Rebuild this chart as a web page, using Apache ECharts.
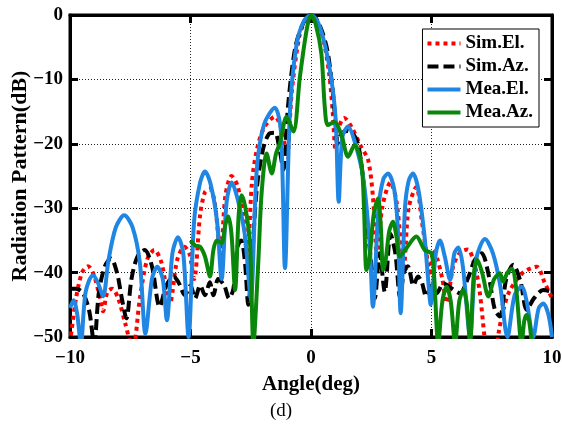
<!DOCTYPE html>
<html>
<head>
<meta charset="utf-8">
<script src="https://cdn.jsdelivr.net/npm/echarts@6/dist/echarts.min.js"></script>
<style>
html, body { margin: 0; padding: 0; background: #fff; }
#chartDom { width: 562px; height: 431px; }
</style>
</head>
<body>
<div id="chartDom"></div>
<script>
// angle (deg) vs radiation pattern (dB)
var seriesNames = ['Sim.El.', 'Sim.Az.', 'Mea.El.', 'Mea.Az.'];
var xTicks = [-10, 10, 5];     // min, max, step
var yTicks = [-50, 0, 10];

var simEl = [
  [-10, -51], [-9.75, -44], [-9.5, -40], [-9.25, -39], [-9.0, -40.5], [-8.75, -44], [-8.63, -46],
  [-8.45, -43], [-8.25, -42.5], [-8.0, -44], [-7.7, -48], [-7.4, -52], [-7.1, -44], [-6.8, -38],
  [-6.5, -36.5], [-6.2, -38.5], [-5.86, -44.8], [-5.55, -38], [-5.25, -36], [-5.05, -37],
  [-4.85, -41], [-4.6, -31], [-4.4, -27.5], [-4.2, -27], [-4.0, -29], [-3.75, -37], [-3.55, -28],
  [-3.3, -25], [-3.05, -26.5], [-2.8, -31.3], [-2.65, -38], [-2.45, -26], [-2.25, -21],
  [-1.95, -17.5], [-1.5, -15.8], [-1.2, -18], [-1.0, -22], [-0.8, -12], [-0.5, -3.6],
  [-0.25, -0.9], [0, 0], [0.25, -0.9], [0.5, -3.6], [0.75, -9], [0.9, -15], [1.02, -21],
  [1.15, -17.5], [1.38, -16], [1.7, -17.5], [2.07, -20.4], [2.37, -22.5], [2.57, -28.2],
  [2.75, -38], [2.95, -30], [3.3, -26], [3.55, -29], [3.85, -39], [4.05, -30], [4.37, -26.7],
  [4.6, -32], [4.85, -38.5], [4.95, -40.5], [5.07, -36.5], [5.25, -38], [5.45, -41], [5.63, -44.7],
  [5.9, -39], [6.2, -36.8], [6.5, -36.4], [6.8, -39], [7.0, -43], [7.2, -50], [7.4, -56],
  [7.65, -53], [7.8, -49], [8.0, -45.5], [8.26, -42.7], [8.8, -40], [9.36, -39.1], [9.7, -41.6],
  [10, -44]
];

var simAz = [
  [-10, -42.5], [-9.75, -42.5], [-9.46, -43.2], [-9.2, -46], [-9.0, -51], [-8.8, -43],
  [-8.55, -39], [-8.3, -37.8], [-8.05, -40], [-7.85, -44], [-7.66, -47.1], [-7.45, -41],
  [-7.2, -37.5], [-6.9, -36.5], [-6.6, -39], [-6.28, -45.3], [-6.0, -42], [-5.7, -40.6],
  [-5.5, -41.5], [-5.23, -43.5], [-5.0, -42], [-4.81, -44], [-4.6, -42], [-4.4, -43.5],
  [-4.2, -41.5], [-4.05, -43.5], [-3.85, -41], [-3.6, -42], [-3.4, -44], [-3.22, -42.5],
  [-3.05, -36], [-2.9, -35], [-2.75, -38], [-2.6, -45], [-2.45, -38], [-2.25, -27], [-2.0, -21],
  [-1.75, -18.5], [-1.5, -18.3], [-1.3, -21], [-1.15, -24], [-0.95, -14], [-0.65, -5],
  [-0.3, -1.1], [0, 0], [0.3, -1.1], [0.65, -5], [0.88, -11], [1.0, -16], [1.1, -20],
  [1.25, -18.5], [1.5, -18], [1.75, -18.5], [1.95, -20], [2.15, -25], [2.3, -31.3], [2.5, -38.6],
  [2.65, -44], [2.85, -37], [3.06, -43], [3.3, -34], [3.5, -37], [3.7, -44], [3.85, -40],
  [4.02, -39], [4.25, -42], [4.44, -40.6], [4.6, -41.5], [4.78, -43.7], [5.0, -42], [5.21, -43.2],
  [5.5, -41.7], [5.85, -42.5], [6.18, -43.2], [6.5, -41], [6.8, -38], [7.08, -37], [7.35, -40],
  [7.63, -45.8], [7.84, -46.8], [8.1, -41], [8.39, -38.8], [8.7, -41.5], [8.95, -45.8],
  [9.25, -44], [9.64, -42.7], [10, -43]
];

var meaEl = [
  [-10, -45.5], [-9.85, -44.3], [-9.7, -46.5], [-9.55, -51], [-9.35, -43], [-9.05, -40.4],
  [-8.85, -41.5], [-8.63, -43.7], [-8.4, -38], [-8.1, -33], [-7.75, -31.1], [-7.4, -33],
  [-7.1, -38.5], [-6.87, -49.5], [-6.6, -41], [-6.38, -39.1], [-6.15, -41], [-5.98, -47.4],
  [-5.75, -37], [-5.52, -34.5], [-5.3, -37], [-5.08, -50], [-4.85, -32], [-4.6, -26],
  [-4.4, -24.3], [-4.15, -26.5], [-3.9, -32], [-3.71, -41], [-3.5, -29], [-3.29, -26],
  [-3.05, -28.5], [-2.75, -34], [-2.5, -44], [-2.25, -24], [-1.95, -17], [-1.5, -14.4],
  [-1.25, -18], [-1.08, -39.3], [-0.87, -14.7], [-0.6, -4.6], [-0.3, -1.0], [0, 0], [0.3, -1.2],
  [0.6, -5], [0.83, -9.6], [1.02, -16], [1.15, -29], [1.3, -19], [1.54, -17.3], [1.8, -19.5],
  [2.16, -25.1], [2.43, -35.4], [2.57, -45.3], [2.8, -30], [3.0, -25.5], [3.2, -24.6],
  [3.45, -27], [3.6, -33], [3.72, -46.3], [3.9, -30], [4.05, -25.8], [4.23, -24.6], [4.45, -27],
  [4.7, -34], [4.85, -40.6], [4.97, -45], [5.18, -37], [5.35, -35], [5.55, -37.5], [5.77, -41.1],
  [5.95, -37], [6.11, -36.1], [6.3, -39], [6.6, -49.7], [6.85, -38], [7.22, -34.8], [7.55, -37],
  [7.85, -42], [8.15, -50], [8.45, -43.5], [8.74, -42.2], [8.95, -44.5], [9.22, -50],
  [9.45, -45.5], [9.64, -44.8], [9.85, -46.5], [10, -50]
];

var meaAz = [
  [-5.0, -35], [-4.8, -35.8], [-4.6, -36], [-4.4, -37.5], [-4.19, -40.6], [-4.05, -36.5],
  [-3.91, -35], [-3.71, -35.4], [-3.55, -32.5], [-3.43, -31.3], [-3.3, -34], [-3.15, -42.7],
  [-3.0, -31], [-2.88, -28], [-2.72, -30], [-2.53, -35.5], [-2.39, -51], [-2.19, -38.6],
  [-2.05, -27.7], [-1.84, -21.5], [-1.63, -24.6], [-1.45, -21.5], [-1.29, -19.9], [-1.01, -15.8],
  [-0.73, -18.1], [-0.46, -9.6], [-0.18, -2.3], [0, 0], [0.2, -1.5], [0.43, -6], [0.57, -14.2],
  [0.7, -17.1], [0.98, -16.6], [1.26, -18.6], [1.54, -22], [1.81, -20.2], [2.09, -23],
  [2.2, -30], [2.3, -39.6], [2.42, -38], [2.6, -31], [2.78, -28.5], [2.9, -33], [2.99, -39.6],
  [3.1, -38], [3.25, -33.5], [3.4, -32.1], [3.55, -34.5], [3.68, -37.5], [3.96, -36.2],
  [4.37, -34.4], [4.72, -36.5], [4.99, -37], [5.1, -40], [5.28, -51], [5.45, -44.5],
  [5.63, -42.2], [5.8, -44.5], [5.98, -51], [6.15, -44.5], [6.32, -42.7], [6.47, -45],
  [6.6, -51], [6.75, -40.5], [6.9, -38], [7.1, -40], [7.36, -43.7], [7.6, -41], [7.84, -40.1],
  [7.97, -41.4], [8.15, -40], [8.33, -39.4], [8.5, -42], [8.74, -51], [8.85, -47.5],
  [8.95, -46.6], [9.05, -47.5], [9.16, -51]
];

var serif = 'Liberation Serif';
var myChart = echarts.init(document.getElementById('chartDom'));

function makeSeries(name, data, color, type) {
  return {
    name: name, type: 'line', data: data, symbol: 'none',
    smooth: 0.3, clip: true, z: 3,
    lineStyle: { color: color, width: 4, type: type, cap: 'butt' },
    itemStyle: { color: color }
  };
}

// fresh objects for every axis, sharing one object broke the frame
function tickStyle() {
  return { show: true, inside: true, length: 8, lineStyle: { color: '#000', width: 3 } };
}
function boxLine() {
  return { show: true, onZero: false, lineStyle: { color: '#000', width: 3 } };
}
function gridLine() {
  return { show: true, lineStyle: { color: '#222', width: 1, type: [1, 2] } };
}
function tickLabel(margin) {
  return {
    fontFamily: serif, fontWeight: 'bold', fontSize: 19, color: '#000', margin: margin,
    formatter: function (v) { return String(v).replace('-', '\u2212'); }
  };
}

var option = {
  animation: false,
  backgroundColor: '#fff',
  grid: {
    left: 70, right: 10, top: 15, bottom: 94, outerBoundsMode: 'none',
    show: true, borderColor: '#000', borderWidth: 3
  },
  legend: {
    data: seriesNames,
    orient: 'vertical', right: 23, top: 29,
    backgroundColor: '#fff', borderColor: '#000', borderWidth: 1,
    padding: [5, 6, 5, 3], itemGap: 4, itemWidth: 33, itemHeight: 14,
    itemStyle: { opacity: 0 },
    lineStyle: { width: 4 },
    textStyle: { fontFamily: serif, fontWeight: 'bold', fontSize: 19, color: '#000' }
  },
  xAxis: [{
    type: 'value', position: 'bottom', min: xTicks[0], max: xTicks[1], interval: xTicks[2],
    name: 'Angle(deg)', nameLocation: 'middle', nameGap: 37,
    nameTextStyle: { fontFamily: serif, fontWeight: 'bold', fontSize: 21, color: '#000' },
    axisLine: boxLine(), axisTick: tickStyle(), axisLabel: tickLabel(12), splitLine: gridLine()
  }, {
    type: 'value', position: 'top', min: xTicks[0], max: xTicks[1], interval: xTicks[2],
    axisLine: boxLine(), axisTick: tickStyle(),
    axisLabel: { show: false }, splitLine: { show: false }
  }],
  yAxis: [{
    type: 'value', position: 'left', min: yTicks[0], max: yTicks[1], interval: yTicks[2],
    name: 'Radiation Pattern(dB)', nameLocation: 'middle', nameGap: 39, nameMoveOverlap: false,
    nameTextStyle: { fontFamily: serif, fontWeight: 'bold', fontSize: 22, color: '#000' },
    axisLine: boxLine(), axisTick: tickStyle(), axisLabel: tickLabel(7), splitLine: gridLine()
  }, {
    type: 'value', position: 'right', min: yTicks[0], max: yTicks[1], interval: yTicks[2],
    axisLine: boxLine(), axisTick: tickStyle(),
    axisLabel: { show: false }, splitLine: { show: false }
  }],
  graphic: [{
    type: 'text', left: 'center', top: 402,
    style: { text: '(d)', fontFamily: serif, fontSize: 19, fill: '#000' }
  }],
  series: [
    makeSeries(seriesNames[0], simEl, '#ff0000', [4, 4]),
    makeSeries(seriesNames[1], simAz, '#000000', [11, 5]),
    makeSeries(seriesNames[2], meaEl, '#1f86e3', 'solid'),
    makeSeries(seriesNames[3], meaAz, '#0a870a', 'solid')
  ]
};

myChart.setOption(option);
window.onresize = myChart.resize;
</script>
</body>
</html>
